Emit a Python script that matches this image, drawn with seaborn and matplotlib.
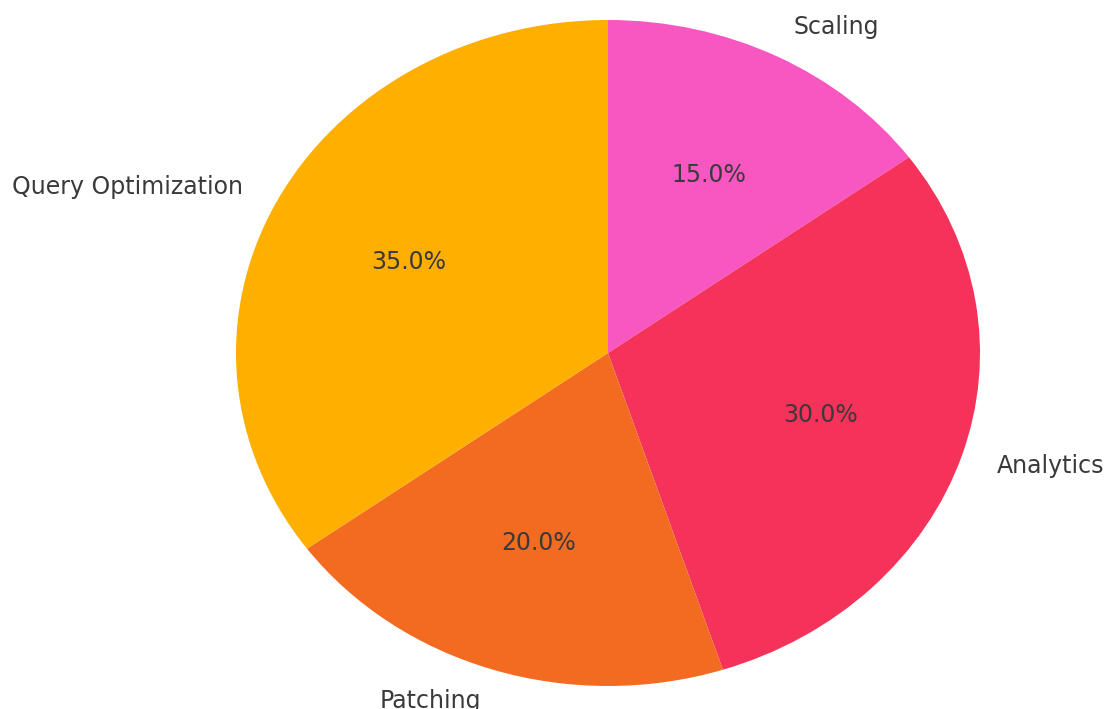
import matplotlib
matplotlib.use("Agg")
import matplotlib.pyplot as plt
import seaborn as sns

sns.set_theme(style="white")
plt.rcParams["font.family"] = ["DejaVu Sans"]

categories = ["Scaling", "Analytics", "Patching", "Query Optimization"]
shares = [15.0, 30.0, 20.0, 35.0]
colors = ["#F857C1", "#F5325A", "#F26B21", "#FFAF00"]

fig = plt.figure(figsize=(11.07, 7.09), dpi=100)
ax = fig.add_axes([0, 0, 1, 1])

ax.pie(
    shares,
    labels=categories,
    colors=colors,
    autopct="%1.1f%%",
    startangle=90,
    counterclock=False,
    wedgeprops={"linewidth": 0, "edgecolor": "none"},
    textprops={"fontsize": 17, "color": "#3a3a3a"},
)

# Stretch the pie into an ellipse across the canvas
ax.set_aspect("auto")
ax.set_xlim(-608 / 372, 499 / 372)
ax.set_ylim(-356 / 333, 353 / 333)
ax.axis("off")

fig.savefig("out.png", dpi=100)
